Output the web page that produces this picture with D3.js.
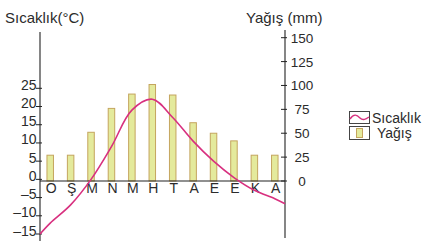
<!DOCTYPE html>
<html>
<head>
<meta charset="utf-8">
<script src="https://cdn.jsdelivr.net/npm/d3@7"></script>
<style>
  body { margin: 0; background: #fff; }
  text { font-family: "Liberation Sans", Arial, sans-serif; fill: #2b2b2b; }
</style>
</head>
<body>
<div id="chart"></div>
<script>
const months = ["O", "Ş", "M", "N", "M", "H", "T", "A", "E", "E", "K", "A"];
const precipitation = [27, 27, 51, 76, 91, 101, 90, 61, 50, 42, 27, 27];
const temperature = [-12, -7, 0, 9, 19, 22, 17, 10.5, 5, 0.5, -3, -5.3];
// curve values where it meets the left and right axis
const temperatureEdges = [-15, -6.7];
const tempTicks = [-15, -10, -5, 0, 5, 10, 15, 20, 25];
const rainTicks = [0, 25, 50, 75, 100, 125, 150];

const drawChart = (element) => {
  const width = 430;
  const height = 241;
  const left = 40;
  const right = 285;

  const xScale = d3.scaleBand()
    .domain(months.map((m, i) => i))
    .range([left, right])
    .padding(0);
  const yTemp = d3.scaleLinear().domain([-15, 25]).range([234, 88.3]);
  const yRain = d3.scaleLinear().domain([0, 150]).range([181, 37.7]);

  d3.select(element).selectAll("svg").remove();
  const svg = d3.select(element)
    .append("svg")
    .attr("width", width)
    .attr("height", height);

  // bars
  const barW = 6.5;
  svg.append("g").attr("id", "bars")
    .selectAll("rect")
    .data(precipitation)
    .enter()
    .append("rect")
    .attr("x", (d, i) => xScale(i) + xScale.bandwidth() / 2 - barW / 2)
    .attr("y", (d) => yRain(d))
    .attr("width", barW)
    .attr("height", (d) => yRain(0) - yRain(d))
    .attr("fill", "#e4ea9c")
    .attr("stroke", "#c4a55e")
    .attr("stroke-width", 1);

  // axes lines
  const ax = svg.append("g").attr("stroke", "#222").attr("stroke-width", 1.1);
  ax.append("line").attr("x1", left).attr("x2", left).attr("y1", 32).attr("y2", 241);
  ax.append("line").attr("x1", right).attr("x2", right).attr("y1", 30).attr("y2", 238);
  ax.append("line").attr("x1", left).attr("x2", right).attr("y1", yRain(0)).attr("y2", yRain(0));

  // left ticks
  const lt = svg.append("g").attr("id", "y-left");
  lt.selectAll("line").data(tempTicks).enter().append("line")
    .attr("x1", left - 4).attr("x2", left + 2)
    .attr("y1", (d) => yTemp(d)).attr("y2", (d) => yTemp(d))
    .attr("stroke", "#222");
  lt.selectAll("text").data(tempTicks).enter().append("text")
    .attr("x", left - 3.5).attr("y", (d) => yTemp(d) + 1.5)
    .attr("text-anchor", "end")
    .attr("font-size", 14)
    .text((d) => (d < 0 ? "\u2013" + Math.abs(d) : d));

  // right ticks
  const rt = svg.append("g").attr("id", "y-right");
  rt.selectAll("line").data(rainTicks).enter().append("line")
    .attr("x1", right - 4).attr("x2", right + 2)
    .attr("y1", (d) => yRain(d)).attr("y2", (d) => yRain(d))
    .attr("stroke", "#222");
  rt.selectAll("text").data(rainTicks).enter().append("text")
    .attr("x", 302).attr("y", (d) => yRain(d) + 5)
    .attr("text-anchor", "middle")
    .attr("font-size", 13.5)
    .text((d) => d);

  // month labels
  svg.append("g").attr("id", "x-axis")
    .selectAll("text").data(months).enter().append("text")
    .attr("x", (d, i) => xScale(i) + xScale.bandwidth() / 2 + 1)
    .attr("y", 193)
    .attr("text-anchor", "middle")
    .attr("font-size", 14)
    .text((d) => d);

  // temperature curve
  const pts = [[left, temperatureEdges[0]]]
    .concat(temperature.map((t, i) => [xScale(i) + xScale.bandwidth() / 2, t]))
    .concat([[right, temperatureEdges[1]]]);
  const line = d3.line()
    .x((d) => d[0])
    .y((d) => yTemp(d[1]))
    .curve(d3.curveCatmullRom);
  svg.append("path")
    .datum(pts)
    .attr("d", line)
    .attr("fill", "none")
    .attr("stroke", "#d8307f")
    .attr("stroke-width", 1.6);

  // titles
  svg.append("text").attr("x", 5).attr("y", 23).attr("font-size", 15).text("Sıcaklık(°C)");
  svg.append("text").attr("x", 246).attr("y", 23).attr("font-size", 15).text("Yağış (mm)");

  // legend
  const lg = svg.append("g").attr("id", "legend");
  lg.append("rect").attr("x", 349.5).attr("y", 111.5).attr("width", 20).attr("height", 12)
    .attr("fill", "#fff").attr("stroke", "#444");
  lg.append("path")
    .attr("d", "M350,119 C354,113 357,115 360,118 C363,121 366,119 369,117")
    .attr("fill", "none").attr("stroke", "#d8307f").attr("stroke-width", 1.4);
  lg.append("text").attr("x", 372).attr("y", 122.5).attr("font-size", 14).text("Sıcaklık");
  lg.append("rect").attr("x", 349.5).attr("y", 126.5).attr("width", 20).attr("height", 13)
    .attr("fill", "#fff").attr("stroke", "#444");
  lg.append("rect").attr("x", 356.5).attr("y", 128.5).attr("width", 6).attr("height", 9)
    .attr("fill", "#e4ea9c").attr("stroke", "#c4a55e");
  lg.append("text").attr("x", 377).attr("y", 137.5).attr("font-size", 14).text("Yağış");
};

drawChart("#chart");
</script>
</body>
</html>
